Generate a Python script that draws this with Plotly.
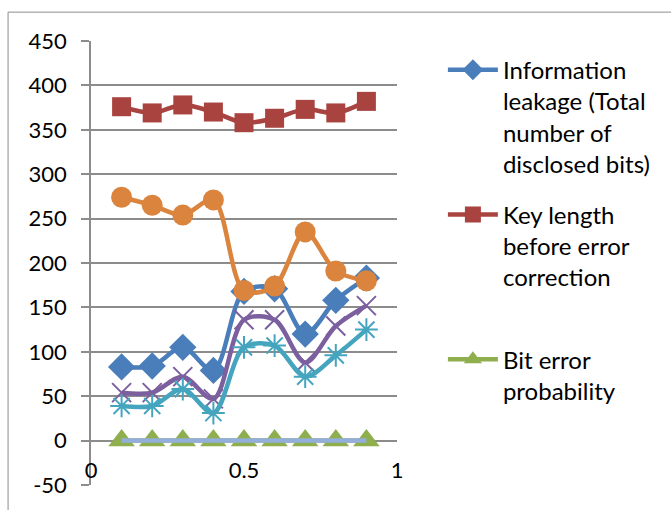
import plotly.graph_objects as go

# Error-correction run: values per error-rate setting
x_vals = [0.1, 0.2, 0.3, 0.4, 0.5, 0.6, 0.7, 0.8, 0.9]

info_leakage = [83, 84, 105, 79, 168, 171, 120, 158, 183]
key_length = [376, 369, 378, 370, 358, 363, 373, 369, 382]
bit_error_prob = [0, 0, 0, 0, 0, 0, 0, 0, 0]
series_x = [54, 54, 72, 47, 136, 136, 88, 129, 152]
series_star = [39, 39, 58, 31, 105, 107, 72, 96, 125]
series_circle = [274, 265, 254, 271, 169, 174, 235, 191, 180]
series_base = [0, 0, 0, 0, 0, 0, 0, 0, 0]

y_ticks = [-50, 0, 50, 100, 150, 200, 250, 300, 350, 400, 450]
x_ticks = [0, 0.5, 1]

FONT = "Lato"
SMOOTH = 0.9

fig = go.Figure()

fig.add_trace(go.Scatter(
    x=x_vals, y=info_leakage, mode="lines+markers",
    name="Information<br>leakage (Total<br>number of<br>disclosed bits)",
    legendgroup="a",
    line=dict(color="#4A7EBB", width=4.5, shape="spline", smoothing=SMOOTH),
    marker=dict(symbol="diamond", size=21, color="#4A7EBB"),
))
fig.add_trace(go.Scatter(
    x=x_vals, y=key_length, mode="lines+markers",
    name="Key length<br>before error<br>correction<br> ",
    legendgroup="b",
    line=dict(color="#A94340", width=4.5, shape="spline", smoothing=SMOOTH),
    marker=dict(symbol="square", size=19, color="#A94340"),
))
fig.add_trace(go.Scatter(
    x=x_vals, y=bit_error_prob, mode="lines+markers",
    name="Bit error<br>probability",
    legendgroup="c",
    line=dict(color="#8FAF4E", width=4.5, shape="spline", smoothing=SMOOTH),
    marker=dict(symbol="triangle-up", size=23, color="#8FAF4E"),
))
fig.add_trace(go.Scatter(
    x=x_vals, y=series_x, mode="lines+markers", showlegend=False,
    line=dict(color="#7B5F9E", width=4.5, shape="spline", smoothing=SMOOTH),
    marker=dict(symbol="x-thin-open", size=19, color="#7B5F9E",
                line=dict(width=2, color="#7B5F9E")),
))
fig.add_trace(go.Scatter(
    x=x_vals, y=series_star, mode="lines+markers", showlegend=False,
    line=dict(color="#45A5BF", width=4.5, shape="spline", smoothing=SMOOTH),
    marker=dict(symbol="asterisk-open", size=19, color="#45A5BF",
                line=dict(width=2, color="#45A5BF")),
))
fig.add_trace(go.Scatter(
    x=x_vals, y=series_circle, mode="lines+markers", showlegend=False,
    line=dict(color="#DB843D", width=4.5, shape="spline", smoothing=SMOOTH),
    marker=dict(symbol="circle", size=21, color="#DB843D"),
))
fig.add_trace(go.Scatter(
    x=x_vals, y=series_base, mode="lines", showlegend=False,
    line=dict(color="#93AEDB", width=4.5, shape="spline", smoothing=SMOOTH),
))

fig.update_layout(
    width=671, height=510,
    margin=dict(l=91, r=274, t=41, b=23),
    paper_bgcolor="white", plot_bgcolor="white",
    font=dict(family=FONT, color="black"),
    legend=dict(
        x=1.15, xanchor="left", y=0.985, yanchor="top",
        valign="top", font=dict(family=FONT, size=24, color="black"),
        tracegroupgap=17, itemwidth=50, bgcolor="rgba(0,0,0,0)",
        maxheight=600,
    ),
    shapes=[dict(
        type="rect", xref="paper", yref="paper",
        x0=-0.271, x1=3.0, y0=-0.3, y1=1.065,
        line=dict(color="#8C8C8C", width=1), fillcolor="rgba(0,0,0,0)",
        layer="below",
    )],
)

fig.update_xaxes(
    range=[0, 1], tickvals=x_ticks, ticktext=[str(v) for v in x_ticks],
    ticklabelposition="inside", ticklabeloverflow="allow",
    showgrid=False, showline=False,
    zeroline=False, ticks="", tickfont=dict(family=FONT, size=22, color="black"),
)
fig.update_yaxes(
    range=[-50, 450], tickvals=y_ticks, ticktext=[str(v) for v in y_ticks],
    showgrid=True, gridcolor="#8C8C8C", gridwidth=1.5,
    zeroline=True, zerolinecolor="#8C8C8C", zerolinewidth=1.5,
    showline=True, linecolor="#8C8C8C", linewidth=1.5,
    ticks="outside", ticklen=8, tickcolor="#8C8C8C", tickwidth=1.5,
    ticklabelstandoff=10,
    tickfont=dict(family=FONT, size=22, color="black"),
)

fig.write_html("out.html")
